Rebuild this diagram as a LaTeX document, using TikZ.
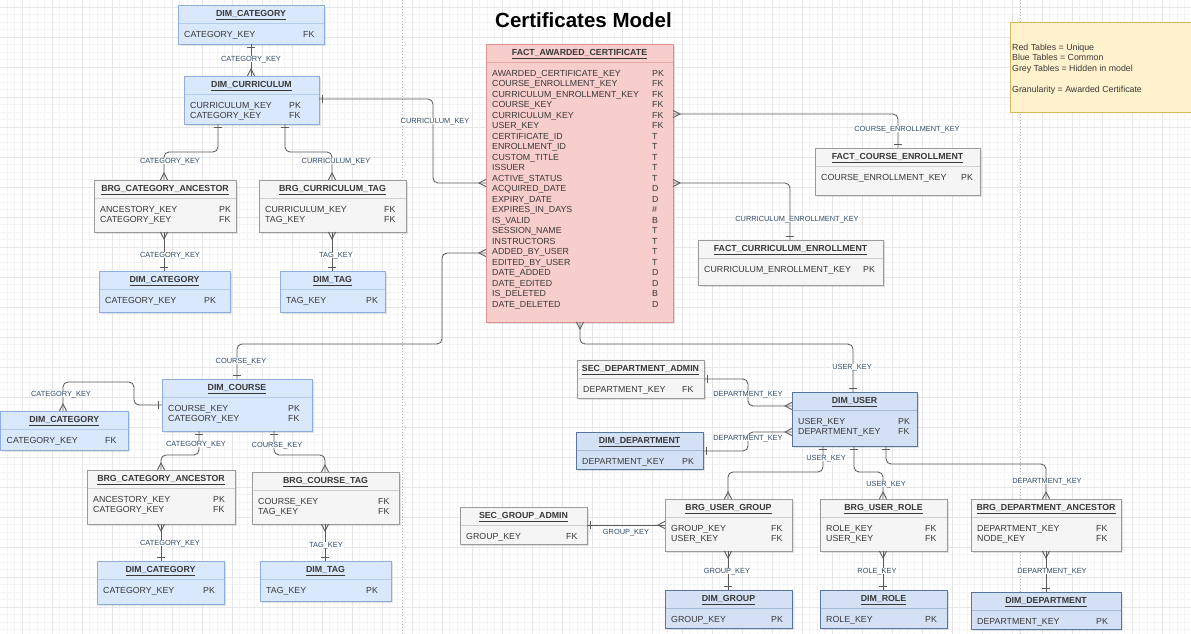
\documentclass[tikz,border=0pt]{standalone}
\usepackage{fontspec}
\setmainfont{Liberation Sans}
\usetikzlibrary{shadows}

\definecolor{linec}{HTML}{5A5A5A}
\definecolor{lblc}{HTML}{2F4A68}
\definecolor{txtc}{HTML}{383838}
\definecolor{bluefill}{HTML}{DAE8FC}
\definecolor{blueline}{HTML}{8EADDB}
\definecolor{bluediv}{HTML}{B5CBEA}
\definecolor{dbluefill}{HTML}{D4E1F5}
\definecolor{dblueline}{HTML}{58779F}
\definecolor{dbluediv}{HTML}{A6BBD8}
\definecolor{greyfill}{HTML}{F5F5F5}
\definecolor{greyline}{HTML}{9B9B9B}
\definecolor{greydiv}{HTML}{CFCFCF}
\definecolor{redfill}{HTML}{F8CECC}
\definecolor{redline}{HTML}{D9908E}
\definecolor{reddiv}{HTML}{E5A9A7}
\definecolor{notefill}{HTML}{FFF2CC}
\definecolor{noteline}{HTML}{D6B656}
\definecolor{gminorc}{HTML}{F4F4F4}
\definecolor{gmajorc}{HTML}{E6E6E6}

\pgfdeclarearrow{
  name = ERmany,
  setup code = {
    \pgfarrowssettipend{0pt}
    \pgfarrowssetlineend{0pt}
    \pgfarrowssetbackend{-7pt}
    \pgfarrowshullpoint{0pt}{4pt}
    \pgfarrowshullpoint{0pt}{-4pt}
    \pgfarrowshullpoint{-7pt}{0pt}
  },
  drawing code = {
    \pgfsetdash{}{0pt}
    \pgfpathmoveto{\pgfqpoint{0pt}{3.6pt}}
    \pgfpathlineto{\pgfqpoint{-7pt}{0pt}}
    \pgfpathlineto{\pgfqpoint{0pt}{-3.6pt}}
    \pgfusepathqstroke
  }
}
\pgfdeclarearrow{
  name = ERone,
  setup code = {
    \pgfarrowssettipend{0pt}
    \pgfarrowssetlineend{0pt}
    \pgfarrowssetbackend{-5pt}
    \pgfarrowshullpoint{-3.5pt}{4pt}
    \pgfarrowshullpoint{-3.5pt}{-4pt}
  },
  drawing code = {
    \pgfsetdash{}{0pt}
    \pgfpathmoveto{\pgfqpoint{-3.5pt}{3.8pt}}
    \pgfpathlineto{\pgfqpoint{-3.5pt}{-3.8pt}}
    \pgfusepathqstroke
  }
}

\newcommand\rowfont{\fontsize{8.8}{10}\selectfont}
\newcommand\lblfont{\fontsize{7.4}{8}\selectfont}

\tikzset{
  tbl/.style={draw, inner sep=0pt, outer sep=0pt, line width=0.9pt,
    drop shadow={opacity=0.22, shadow xshift=1.6pt, shadow yshift=-1.6pt}},
  tblue/.style={fill=bluefill, draw=blueline},
  tbluediv/.style={draw=bluediv, line width=0.7pt},
  tdblue/.style={fill=dbluefill, draw=dblueline},
  tdbluediv/.style={draw=dbluediv, line width=0.7pt},
  tgrey/.style={fill=greyfill, draw=greyline},
  tgreydiv/.style={draw=greydiv, line width=0.7pt},
  tred/.style={fill=redfill, draw=redline},
  treddiv/.style={draw=reddiv, line width=0.7pt},
  ttitle/.style={font=\bfseries\rowfont, text=txtc, inner sep=0pt, text height=6.3pt, text depth=0pt},
  rowtxt/.style={font=\rowfont, text=txtc, inner sep=0pt, anchor=west, text height=6.3pt, text depth=0pt},
  notetxt/.style={font=\fontsize{8.8}{10}\selectfont, text=txtc, inner sep=0pt, anchor=west, text height=6.2pt, text depth=0pt},
  lbl/.style={font=\lblfont, text=lblc, fill=white, inner sep=0.8pt, text height=5.3pt, text depth=0pt},
  conn/.style={draw=linec, line width=0.85pt, rounded corners=5pt},
  gminor/.style={draw=gminorc, line width=0.6pt},
  gmajor/.style={draw=gmajorc, line width=0.8pt},
  pagebrk/.style={draw=black!30, line width=0.6pt, dash pattern=on 1pt off 2pt},
}

% #1 name, #2 style, #3 left, #4 top, #5 right, #6 bottom, #7 title, #8 key x, #9 rows
\newcommand\ertable[9]{%
  \node[tbl,#2,minimum width={(#5-#3)*1pt},minimum height={(#6-#4)*1pt}] (#1) at ({(#3+#5)/2},{(#4+#6)/2}) {};
  \draw[#2div] ({#3+0.5},{#4+18}) -- ({#5-0.5},{#4+18});
  \node[ttitle] (#1-t) at ({(#3+#5)/2},{#4+8.5}) {\underline{#7}};
  \foreach \nm/\ky [count=\i from 0] in {#9}{%
    \node[rowtxt] (#1-n\i) at ({#3+6},{#4+29+\i*10.5}) {\nm};
    \node[rowtxt] (#1-k\i) at ({#8},{#4+29+\i*10.5}) {\ky};
  }%
}

\begin{document}
\catcode`\_=12
\begin{tikzpicture}[x=1pt,y=-1pt]
\useasboundingbox (0,0) rectangle (1191,634);
\fill[white] (0,0) rectangle (1191,634);

% grid
\foreach \x in {7,14.5,...,1191} \draw[gminor] (\x,0) -- (\x,634);
\foreach \y in {7,14.5,...,634} \draw[gminor] (0,\y) -- (1191,\y);
\foreach \x in {22,52,...,1191} \draw[gmajor] (\x,0) -- (\x,634);
\foreach \y in {7,37,...,634} \draw[gmajor] (0,\y) -- (1191,\y);
\draw[pagebrk] (402,0) -- (402,634);
\draw[pagebrk] (1020,0) -- (1020,634);

% title
\node[font=\bfseries\fontsize{20.5}{24}\selectfont, inner sep=0pt] (title) at (583.5,20) {Certificates Model};

% note
\node[draw=noteline, fill=notefill, line width=0.9pt, inner sep=0pt, minimum width=184pt, minimum height=90pt] (note) at (1102,67) {};
\node[notetxt] (note1) at (1012,47) {Red Tables = Unique};
\node[notetxt] (note2) at (1012,57.5) {Blue Tables = Common};
\node[notetxt] (note3) at (1012,68) {Grey Tables = Hidden in model};
\node[notetxt] (note4) at (1012,89) {Granularity = Awarded Certificate};

% tables
\ertable{dcatA}{tblue}{178}{5}{324}{44}{DIM_CATEGORY}{303}{CATEGORY_KEY/FK}
\ertable{dcurr}{tblue}{184}{76}{319}{124}{DIM_CURRICULUM}{289}{CURRICULUM_KEY/PK,CATEGORY_KEY/FK}
\ertable{bcaA}{tgrey}{94}{180}{236}{232}{BRG_CATEGORY_ANCESTOR}{219}{ANCESTORY_KEY/PK,CATEGORY_KEY/FK}
\ertable{bctag}{tgrey}{259}{180}{406}{232}{BRG_CURRICULUM_TAG}{384}{CURRICULUM_KEY/FK,TAG_KEY/FK}
\ertable{dcatB}{tblue}{99}{271}{230}{312}{DIM_CATEGORY}{204}{CATEGORY_KEY/PK}
\ertable{dtagA}{tblue}{280}{271}{385}{312}{DIM_TAG}{366}{TAG_KEY/PK}
\ertable{fact}{tred}{486}{44}{673}{322}{FACT_AWARDED_CERTIFICATE}{652}{AWARDED_CERTIFICATE_KEY/PK,COURSE_ENROLLMENT_KEY/FK,CURRICULUM_ENROLLMENT_KEY/FK,COURSE_KEY/FK,CURRICULUM_KEY/FK,USER_KEY/FK,CERTIFICATE_ID/T,ENROLLMENT_ID/T,CUSTOM_TITLE/T,ISSUER/T,ACTIVE_STATUS/T,ACQUIRED_DATE/D,EXPIRY_DATE/D,EXPIRES_IN_DAYS/\#,IS_VALID/B,SESSION_NAME/T,INSTRUCTORS/T,ADDED_BY_USER/T,EDITED_BY_USER/T,DATE_ADDED/D,DATE_EDITED/D,IS_DELETED/B,DATE_DELETED/D}
\ertable{fce}{tgrey}{815}{148}{980}{195}{FACT_COURSE_ENROLLMENT}{961}{COURSE_ENROLLMENT_KEY/PK}
\ertable{fcue}{tgrey}{698}{240}{883}{285}{FACT_CURRICULUM_ENROLLMENT}{863}{CURRICULUM_ENROLLMENT_KEY/PK}
\ertable{dcourse}{tblue}{162}{379}{312}{431}{DIM_COURSE}{288}{COURSE_KEY/PK,CATEGORY_KEY/FK}
\ertable{dcatC}{tblue}{0.5}{411}{128}{450}{DIM_CATEGORY}{105}{CATEGORY_KEY/FK}
\ertable{bcaB}{tgrey}{87}{470}{235}{524}{BRG_CATEGORY_ANCESTOR}{213}{ANCESTORY_KEY/PK,CATEGORY_KEY/FK}
\ertable{bcoursetag}{tgrey}{252}{472}{399}{524}{BRG_COURSE_TAG}{378}{COURSE_KEY/FK,TAG_KEY/FK}
\ertable{dcatD}{tblue}{97}{561}{224}{604}{DIM_CATEGORY}{203}{CATEGORY_KEY/PK}
\ertable{dtagB}{tblue}{260}{561}{391}{601}{DIM_TAG}{366}{TAG_KEY/PK}
\ertable{secdept}{tgrey}{577}{360}{704}{398}{SEC_DEPARTMENT_ADMIN}{682}{DEPARTMENT_KEY/FK}
\ertable{ddeptA}{tdblue}{576}{432}{703}{469}{DIM_DEPARTMENT}{682}{DEPARTMENT_KEY/PK}
\ertable{duser}{tdblue}{792}{392}{917}{446}{DIM_USER}{898}{USER_KEY/PK,DEPARTMENT_KEY/FK}
\ertable{bug}{tgrey}{665}{499}{792}{551}{BRG_USER_GROUP}{771}{GROUP_KEY/FK,USER_KEY/FK}
\ertable{secgrp}{tgrey}{460}{507}{587}{544}{SEC_GROUP_ADMIN}{566}{GROUP_KEY/FK}
\ertable{dgroup}{tdblue}{665}{590}{792}{628}{DIM_GROUP}{771}{GROUP_KEY/PK}
\ertable{bur}{tgrey}{820}{499}{947}{551}{BRG_USER_ROLE}{925}{ROLE_KEY/FK,USER_KEY/FK}
\ertable{bda}{tgrey}{971}{499}{1121}{551}{BRG_DEPARTMENT_ANCESTOR}{1096}{DEPARTMENT_KEY/FK,NODE_KEY/FK}
\ertable{drole}{tdblue}{820}{590}{947}{628}{DIM_ROLE}{925}{ROLE_KEY/PK}
\ertable{ddeptB}{tdblue}{971}{592}{1121}{629}{DIM_DEPARTMENT}{1096}{DEPARTMENT_KEY/PK}

% connectors
\draw[conn, ERone-ERmany] (dcatA.south -| 251,0) -- (dcurr.north -| 251,0);
\draw[conn, ERone-ERmany] (dcurr.south -| 218,0) -- (218,152) -- (164,152) -- (bcaA.north -| 164,0);
\draw[conn, ERone-ERmany] (dcurr.south -| 285,0) -- (285,152) -- (332,152) -- (bctag.north -| 332,0);
\draw[conn, ERmany-ERone] (bcaA.south -| 164,0) -- (dcatB.north -| 164,0);
\draw[conn, ERmany-ERone] (bctag.south -| 332,0) -- (dtagA.north -| 332,0);
\draw[conn, ERone-ERmany] (dcurr.east |- 0,99) -- (433,99) -- (433,183) -- (fact.west |- 0,183);
\draw[conn, ERmany-ERone] (fact.west |- 0,253) -- (442,253) -- (442,344) -- (237,344) -- (dcourse.north -| 237,0);
\draw[conn, ERmany-ERone] (fact.east |- 0,114) -- (898,114) -- (fce.north -| 898,0);
\draw[conn, ERmany-ERone] (fact.east |- 0,183) -- (790,183) -- (fcue.north -| 790,0);
\draw[conn, ERmany-ERone] (fact.south -| 580,0) -- (580,344) -- (853,344) -- (duser.north -| 853,0);
\draw[conn, ERmany-ERone] (dcatC.north -| 63,0) -- (63,382) -- (134,382) -- (134,405) -- (dcourse.west |- 0,405);
\draw[conn, ERone-ERmany] (dcourse.south -| 199,0) -- (199,455) -- (161,455) -- (bcaB.north -| 161,0);
\draw[conn, ERone-ERmany] (dcourse.south -| 274,0) -- (274,455) -- (325,455) -- (bcoursetag.north -| 325,0);
\draw[conn, ERmany-ERone] (bcaB.south -| 161,0) -- (dcatD.north -| 161,0);
\draw[conn, ERmany-ERone] (bcoursetag.south -| 325,0) -- (dtagB.north -| 325,0);
\draw[conn, ERone-ERmany] (secdept.east |- 0,379) -- (748,379) -- (748,406) -- (duser.west |- 0,406);
\draw[conn, ERone-ERmany] (ddeptA.east |- 0,451) -- (748,451) -- (748,432) -- (duser.west |- 0,432);
\draw[conn, ERone-ERmany] (duser.south -| 823,0) -- (823,472) -- (728,472) -- (bug.north -| 728,0);
\draw[conn, ERone-ERmany] (secgrp.east |- 0,525) -- (bug.west |- 0,525);
\draw[conn, ERmany-ERone] (bug.south -| 728,0) -- (dgroup.north -| 728,0);
\draw[conn, ERone-ERmany] (duser.south -| 854,0) -- (854,472) -- (883,472) -- (bur.north -| 883,0);
\draw[conn, ERone-ERmany] (duser.south -| 886,0) -- (886,464) -- (1046,464) -- (bda.north -| 1046,0);
\draw[conn, ERmany-ERone] (bur.south -| 883,0) -- (drole.north -| 883,0);
\draw[conn, ERmany-ERone] (bda.south -| 1046,0) -- (ddeptB.north -| 1046,0);

% connector labels
\node[lbl] (l1) at (251,59) {CATEGORY_KEY};
\node[lbl] (l2) at (170,161) {CATEGORY_KEY};
\node[lbl] (l3) at (336,161) {CURRICULUM_KEY};
\node[lbl] (l4) at (170,255) {CATEGORY_KEY};
\node[lbl] (l5) at (336,255) {TAG_KEY};
\node[lbl] (l6) at (435,121) {CURRICULUM_KEY};
\node[lbl] (l7) at (241,361) {COURSE_KEY};
\node[lbl] (l8) at (907,129) {COURSE_ENROLLMENT_KEY};
\node[lbl] (l9) at (797,219) {CURRICULUM_ENROLLMENT_KEY};
\node[lbl] (l10) at (852,367) {USER_KEY};
\node[lbl] (l11) at (61,394) {CATEGORY_KEY};
\node[lbl] (l12) at (196,444) {CATEGORY_KEY};
\node[lbl] (l13) at (277,445) {COURSE_KEY};
\node[lbl] (l14) at (170,543) {CATEGORY_KEY};
\node[lbl] (l15) at (326,545) {TAG_KEY};
\node[lbl] (l16) at (748,394) {DEPARTMENT_KEY};
\node[lbl] (l17) at (748,438) {DEPARTMENT_KEY};
\node[lbl] (l18) at (826,458) {USER_KEY};
\node[lbl] (l19) at (626,532) {GROUP_KEY};
\node[lbl] (l20) at (727,571) {GROUP_KEY};
\node[lbl] (l21) at (886,484) {USER_KEY};
\node[lbl] (l22) at (1047,481) {DEPARTMENT_KEY};
\node[lbl] (l23) at (877,571) {ROLE_KEY};
\node[lbl] (l24) at (1052,571) {DEPARTMENT_KEY};
\end{tikzpicture}
\end{document}
